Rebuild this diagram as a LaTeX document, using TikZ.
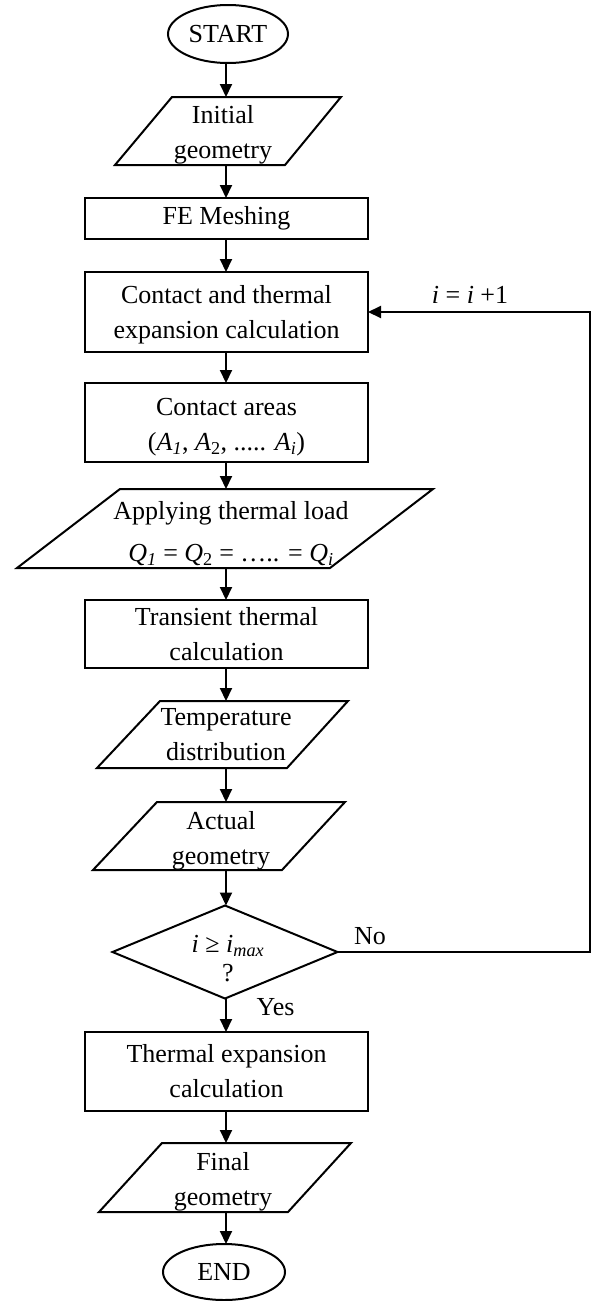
\documentclass[tikz,border=0pt]{standalone}
\usepackage{fontspec}
\setmainfont{Liberation Serif}
\usetikzlibrary{shapes.geometric,arrows.meta,calc}
\newcommand{\drawpara}[5]{\draw[shapeline] ([xshift=#2]#1.north) -- ([xshift=#3]#1.north) -- ([xshift=#5]#1.south) -- ([xshift=#4]#1.south) -- cycle;}
\tikzset{
 txt/.style={font=\fontsize{26}{35}\selectfont, align=center, inner sep=0pt, outer sep=0pt},
 box/.style={txt, draw, line width=2pt, rectangle, minimum width=283pt},
 term/.style={txt, draw, line width=2pt, ellipse, inner sep=0pt},
 io/.style={txt, rectangle, minimum width=10pt},
 shapeline/.style={line width=2pt, line join=miter},
 arr/.style={line width=2pt, -{Triangle[width=12pt,length=13pt]}},
}
\begin{document}
\begin{tikzpicture}[x=1pt,y=-1pt]
\useasboundingbox (0,0) rectangle (591,1301);
\coordinate (axis) at (226,0);
\coordinate (corner) at (590,0);
\node[term, minimum width=120pt, minimum height=58pt] (start) at (228,34) {START};
\node[io, minimum height=68pt] (init) at (223,131) {};
\drawpara{init}{-51}{118}{-108}{62}
\node[txt] (initt) at ([yshift=-4]init.center) {Initial\\geometry};
\node[box, minimum height=41pt] (mesh) at (226.5,218.5) {FE Meshing};
\node[box, minimum height=80pt] (contact) at (226.5,312) {};
\node[txt] (contactt) at ([yshift=-3]contact.center) {Contact and thermal\\expansion calculation};
\node[box, minimum height=79pt] (areas) at (226.5,422.5) {};
\node[txt] (areast) at ([yshift=-5]areas.center) {Contact areas\\(\textit{A}\textsubscript{\textit{1}}, \textit{A}\textsubscript{2}, ..... \textit{A}\textsubscript{\textit{i}})};
\node[io, minimum height=79pt] (apply) at (231,528.5) {};
\drawpara{apply}{-111}{202}{-214}{99}
\node[txt] (applyt) at ([yshift=-5.5]apply.center) {Applying thermal load\\[7pt]\textit{Q}\textsubscript{\textit{1}} = \textit{Q}\textsubscript{2} = ….. = \textit{Q}\textsubscript{\textit{i}}};
\node[box, minimum height=68pt] (trans) at (226.5,634) {Transient thermal\\calculation};
\node[io, minimum height=67pt] (temp) at (226,734.5) {Temperature\\distribution};
\drawpara{temp}{-66}{122}{-129}{61}
\node[io, minimum height=68pt] (actual) at (221,836) {};
\drawpara{actual}{-64}{124}{-128}{61}
\node[txt] (actualt) at ([yshift=-5]actual.center) {Actual\\geometry};
\node[io, minimum width=225pt, minimum height=93pt] (dec) at (225,952) {};
\draw[shapeline] (dec.north) -- (dec.east) -- (dec.south) -- (dec.west) -- cycle;
\node[txt] (dectext) at (228,959) {\textit{i} ≥ \textit{i}\textsubscript{\textit{max}}\\[-6pt]?};
\node[box, minimum height=79pt] (thermal) at (226.5,1071.5) {Thermal expansion\\calculation};
\node[io, minimum height=69pt] (final) at (223,1177.5) {};
\drawpara{final}{-61}{128}{-124}{65}
\node[txt] (finalt) at ([yshift=-4]final.center) {Final\\geometry};
\node[term, minimum width=122pt, minimum height=56pt] (end) at (224,1272) {END};
\node[txt] (inc) at (470,295) {\textit{i} = \textit{i} +1};
\node[txt] (no) at (370,936) {No};
\node[txt] (yes) at (275.5,1007) {Yes};
\draw[arr] (start.south -| axis) -- (init.north -| axis);
\draw[arr] (init.south -| axis) -- (mesh.north -| axis);
\draw[arr] (mesh.south -| axis) -- (contact.north -| axis);
\draw[arr] (contact.south -| axis) -- (areas.north -| axis);
\draw[arr] (areas.south -| axis) -- (apply.north -| axis);
\draw[arr] (apply.south -| axis) -- (trans.north -| axis);
\draw[arr] (trans.south -| axis) -- (temp.north -| axis);
\draw[arr] (temp.south -| axis) -- (actual.north -| axis);
\draw[arr] (actual.south -| axis) -- (dec.north -| axis);
\draw[arr] (dec.south -| axis) -- (thermal.north -| axis);
\draw[arr] (thermal.south -| axis) -- (final.north -| axis);
\draw[arr] (final.south -| axis) -- (end.north -| axis);
\draw[arr] (dec.east) -- (dec.east -| corner) -- (corner |- contact.east) -- (contact.east);
\end{tikzpicture}
\end{document}
